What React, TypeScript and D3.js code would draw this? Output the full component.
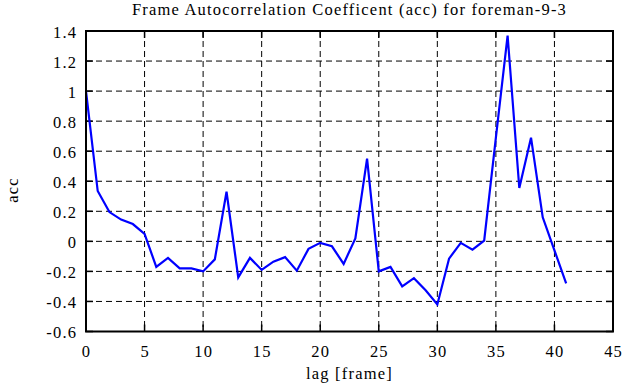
import React from "react";
import * as d3 from "d3";

const lags = d3.range(0, 42);
const accValues = [
  1.0, 0.335, 0.195, 0.145, 0.115, 0.05, -0.17, -0.11, -0.18, -0.18,
  -0.2, -0.12, 0.33, -0.24, -0.11, -0.19, -0.135, -0.105, -0.195, -0.05,
  -0.01, -0.033, -0.15, 0.02, 0.55, -0.2, -0.17, -0.3, -0.245, -0.325,
  -0.42, -0.115, -0.01, -0.055, 0.005, 0.69, 1.37, 0.355, 0.69, 0.16,
  -0.06, -0.28,
];
const xTicks = [0, 5, 10, 15, 20, 25, 30, 35, 40, 45];
const yTicks = [-0.6, -0.4, -0.2, 0, 0.2, 0.4, 0.6, 0.8, 1, 1.2, 1.4];
const title = "Frame Autocorrelation Coefficent (acc) for foreman-9-3";
const xLabel = "lag [frame]";
const yLabel = "acc";

export default function App() {
  const W = 630, H = 387;
  const L = 86, R = 613, T = 31, B = 331.5;
  const x = d3.scaleLinear().domain([0, 45]).range([L, R]);
  const y = d3.scaleLinear().domain([-0.6, 1.4]).range([B, T]);
  const line = d3.line<number>().x((_, i) => x(lags[i])).y((d) => y(d));
  const font = "'Liberation Serif', 'Times New Roman', serif";
  const tl = 7;
  const fs = 16.5;
  const ls = 1.2;
  const fmt = (v: number) => String(Math.round(v * 10) / 10);
  return (
    <svg width={W} height={H} style={{ position: "absolute", left: 0, top: 0 }} fontFamily={font}>
      <rect width={W} height={H} fill="#fff" />
      {xTicks.slice(1, -1).map((t) => (
        <line key={"gx" + t} x1={x(t)} x2={x(t)} y1={T} y2={B} stroke="#000" strokeWidth={1} strokeDasharray="6,4" />
      ))}
      {yTicks.slice(1, -1).map((t) => (
        <line key={"gy" + t} x1={L} x2={R} y1={y(t)} y2={y(t)} stroke="#000" strokeWidth={1} strokeDasharray="6,4" />
      ))}
      {xTicks.map((t) => (
        <g key={"tx" + t}>
          <line x1={x(t)} x2={x(t)} y1={B} y2={B - tl} stroke="#000" strokeWidth={1.5} />
          <line x1={x(t)} x2={x(t)} y1={T} y2={T + tl} stroke="#000" strokeWidth={1.5} />
          <text x={x(t) + ls / 2} y={357} fontSize={fs} letterSpacing={ls} textAnchor="middle">{t}</text>
        </g>
      ))}
      {yTicks.map((t) => (
        <g key={"ty" + t}>
          <line x1={L} x2={L + tl} y1={y(t)} y2={y(t)} stroke="#000" strokeWidth={1.5} />
          <line x1={R} x2={R - tl} y1={y(t)} y2={y(t)} stroke="#000" strokeWidth={1.5} />
          <text x={76 + ls} y={y(t) + 6.5} fontSize={fs} letterSpacing={ls} textAnchor="end">{fmt(t)}</text>
        </g>
      ))}
      <path d={line(accValues) || ""} fill="none" stroke="#0000ff" strokeWidth={2.2} strokeLinejoin="miter" />
      <rect x={L} y={T} width={R - L} height={B - T} fill="none" stroke="#000" strokeWidth={2} />
      <text x={(L + R) / 2} y={14.5} fontSize={fs} letterSpacing={ls} textAnchor="middle">{title}</text>
      <text x={(L + R) / 2} y={379} fontSize={fs} letterSpacing={ls} textAnchor="middle">{xLabel}</text>
      <text transform={`translate(18,${190}) rotate(-90)`} fontSize={fs} letterSpacing={ls} textAnchor="middle">{yLabel}</text>
    </svg>
  );
}
